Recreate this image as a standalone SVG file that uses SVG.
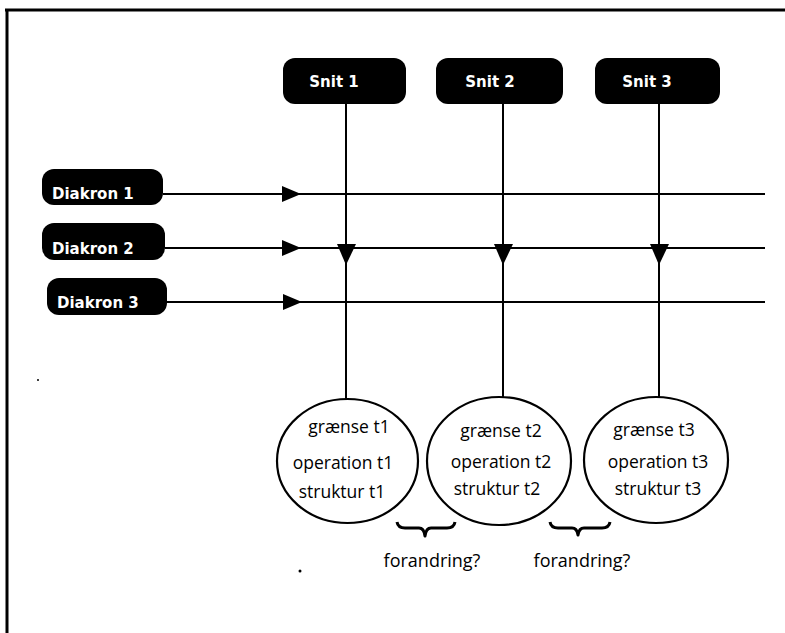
<svg xmlns="http://www.w3.org/2000/svg" width="785" height="633" viewBox="0 0 785 633">
<defs>
<style>
.box{fill:#000}
.lbl{font-family:"DejaVu Sans","Open Sans",sans-serif;font-weight:bold;font-size:15px;fill:#fff}
.line{stroke:#000;stroke-width:2;fill:none}
.arr{fill:#000}
.ell{fill:#fff;stroke:#000;stroke-width:2.2}
.ct{font-family:"Open Sans","Noto Sans","Liberation Sans",sans-serif;font-size:17.5px;fill:#000;text-anchor:middle}
.brace{stroke:#000;stroke-width:3;fill:none;stroke-linejoin:round}
</style>
</defs>
<rect width="785" height="633" fill="#fff"/>
<g id="frame">
<line x1="5" y1="10" x2="785" y2="10" stroke="#000" stroke-width="3"/>
<line x1="7" y1="9" x2="7" y2="633" stroke="#000" stroke-width="3"/>
</g>
<g id="connectors">
<line class="line" x1="163" y1="194" x2="765" y2="194"/>
<line class="line" x1="165" y1="248" x2="765" y2="248"/>
<line class="line" x1="167" y1="302" x2="765" y2="302"/>
<polygon class="arr" points="282,186 282,202 301,194"/>
<polygon class="arr" points="282,240 282,256 301,248"/>
<polygon class="arr" points="283,294 283,310 302,302"/>
<line class="line" x1="346" y1="104" x2="346" y2="400"/>
<line class="line" x1="503" y1="104" x2="503" y2="398"/>
<line class="line" x1="659" y1="104" x2="659" y2="398"/>
<polygon class="arr" points="337,244 356,244 346,265"/>
<polygon class="arr" points="494,244 513,244 503,265"/>
<polygon class="arr" points="650,244 669,244 659,265"/>
<path class="brace" d="M397,522 q1,6 8,6 h14 q5,0 6,8 q1,-8 6,-8 h16 q7,0 8,-6"/>
<path class="brace" d="M550,522 q1,6 8,6 h14 q5,0 6,7 q1,-7 6,-7 h18 q7,0 8,-6"/>
</g>
<g id="snit1"><rect class="box" x="283" y="58" width="123" height="46" rx="12"/><text class="lbl" x="334" y="87" text-anchor="middle">Snit 1</text></g>
<g id="snit2"><rect class="box" x="436" y="58" width="127" height="46" rx="12"/><text class="lbl" x="490" y="87" text-anchor="middle">Snit 2</text></g>
<g id="snit3"><rect class="box" x="595" y="58" width="125" height="46" rx="12"/><text class="lbl" x="647" y="87" text-anchor="middle">Snit 3</text></g>
<g id="diakron1"><rect class="box" x="42" y="169" width="121" height="36" rx="12"/><text class="lbl" x="52" y="199">Diakron 1</text></g>
<g id="diakron2"><rect class="box" x="42" y="223" width="123" height="37" rx="12"/><text class="lbl" x="52" y="254">Diakron 2</text></g>
<g id="diakron3"><rect class="box" x="47" y="278" width="120" height="37" rx="12"/><text class="lbl" x="57" y="308">Diakron 3</text></g>
<g id="t1"><ellipse class="ell" cx="347.5" cy="461" rx="70.5" ry="62"/>
<text class="ct" x="349" y="433">grænse t1</text><text class="ct" x="343" y="469">operation t1</text><text class="ct" x="342" y="498">struktur t1</text></g>
<g id="t2"><ellipse class="ell" cx="499" cy="461" rx="72" ry="64"/>
<text class="ct" x="501" y="437">grænse t2</text><text class="ct" x="501" y="468">operation t2</text><text class="ct" x="497" y="495">struktur t2</text></g>
<g id="t3"><ellipse class="ell" cx="656" cy="460" rx="72" ry="63"/>
<text class="ct" x="654" y="436">grænse t3</text><text class="ct" x="658" y="468">operation t3</text><text class="ct" x="658" y="495">struktur t3</text></g>
<g id="labels">
<text class="ct" x="432" y="567" style="font-size:18px">forandring?</text>
<text class="ct" x="582" y="567" style="font-size:18px">forandring?</text>
<circle cx="300" cy="571" r="1.5" fill="#000"/>
<circle cx="38" cy="380" r="1" fill="#000"/>
</g>
</svg>
